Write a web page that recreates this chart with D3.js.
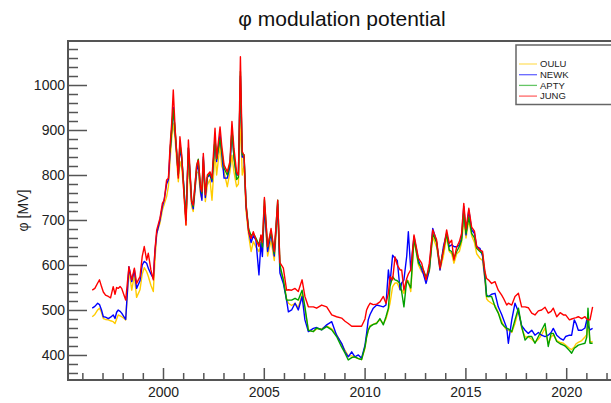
<!DOCTYPE html>
<html>
<head>
<meta charset="utf-8">
<script src="https://cdn.jsdelivr.net/npm/d3@7"></script>
<style>
  html, body { margin: 0; padding: 0; background: #fff; }
  svg { display: block; font-family: "Liberation Sans", Arial, Helvetica, sans-serif; }
</style>
</head>
<body>
<svg id="chart" width="611" height="403"></svg>
<script>
// ---------- data (decimal years, phi in MV) ----------
const dates = [
  1996.49, 1996.62, 1996.76, 1996.85, 1996.95, 1997.04, 1997.15, 1997.29, 1997.40, 1997.53,
  1997.62, 1997.70, 1997.78, 1997.87, 1997.95, 1998.05, 1998.15, 1998.31, 1998.45, 1998.58,
  1998.69, 1998.86, 1998.97, 1999.07, 1999.19, 1999.27, 1999.40, 1999.52, 1999.60, 1999.69,
  1999.85, 1999.97, 2000.06, 2000.18, 2000.27, 2000.35, 2000.43, 2000.51,
  2000.60, 2000.76, 2000.84, 2000.93, 2001.04, 2001.14, 2001.26, 2001.42, 2001.50, 2001.67,
  2001.75, 2001.87, 2001.93, 2002.00, 2002.10, 2002.20, 2002.33, 2002.43, 2002.58, 2002.66,
  2002.83, 2002.91, 2003.03, 2003.19, 2003.32, 2003.42, 2003.52, 2003.65, 2003.74, 2003.84,
  2003.93, 2004.02, 2004.12, 2004.25, 2004.37, 2004.48, 2004.61,
  2004.76, 2004.86, 2004.93, 2005.03, 2005.19, 2005.36, 2005.52, 2005.69, 2005.80, 2005.97,
  2006.13, 2006.22, 2006.38, 2006.55, 2006.71, 2006.90, 2007.04, 2007.21, 2007.46, 2007.62,
  2007.87, 2008.12, 2008.37, 2008.61, 2008.86, 2009.03, 2009.19, 2009.36, 2009.52, 2009.69,
  2009.85, 2010.02, 2010.10, 2010.18, 2010.27, 2010.43, 2010.60, 2010.76, 2010.93, 2011.06,
  2011.18,
  2011.26, 2011.39, 2011.51, 2011.62, 2011.76, 2011.84, 2011.95, 2012.09, 2012.17, 2012.29,
  2012.45, 2012.67, 2012.83, 2012.91, 2013.05, 2013.21, 2013.38, 2013.57, 2013.74, 2013.91,
  2014.07, 2014.20, 2014.32, 2014.43, 2014.57, 2014.70, 2014.81, 2014.92, 2015.03, 2015.17,
  2015.31, 2015.45, 2015.56, 2015.72, 2015.85, 2015.97,
  2016.05, 2016.14, 2016.30, 2016.47, 2016.63, 2016.80, 2016.90, 2017.05, 2017.13, 2017.30,
  2017.46, 2017.63, 2017.79, 2017.96, 2018.12, 2018.29, 2018.45, 2018.62, 2018.78, 2018.95,
  2019.11, 2019.25, 2019.36, 2019.53, 2019.70, 2019.86, 2019.97, 2020.16, 2020.27, 2020.40,
  2020.49, 2020.60, 2020.77, 2020.93, 2021.02, 2021.08, 2021.18, 2021.31
];

const oulu = [
  485, 490, 500, 504, 495, 481, 479, 478, 476, 474,
  470, 480, 489, 487, 485, 482, 478, 589, 544, 578,
  528, 545, 580, 594, 585, 575, 555, 541, 610, 670,
  693, 722, 735, 752, 775, 833, 880, 915,
  880, 785, 830, 815, 760, 689, 830, 730, 719, 807,
  805, 755, 748, 815, 741, 778, 790, 744, 852, 800,
  867, 820, 807, 774, 807, 844, 807, 774, 780, 930,
  800, 820, 719, 665, 630, 652, 640,
  630, 645, 630, 720, 620, 655, 610, 720, 590, 570,
  525, 515, 510, 515, 505, 535, 500, 455, 452, 458,
  458, 465, 458, 445, 425, 410, 398, 398, 395, 392,
  390, 415, 440, 455, 465, 468, 472, 478, 470, 480,
  500,
  515, 552, 560, 560, 545, 545, 537, 560, 565, 541,
  656, 600, 585, 581, 567, 585, 663, 640, 589, 620,
  663, 630, 625, 604, 625, 630, 650, 700, 660, 700,
  665, 650, 625, 615, 610, 565,
  525, 520, 515, 510, 495, 475, 465, 455, 455, 450,
  470, 500, 460, 440, 440, 435, 428, 435, 445, 460,
  425, 440, 445, 432, 428, 426, 422, 415, 412, 418,
  425, 428, 432, 440, 445, 480, 428, 430
];

const newk = [
  504, 508, 515, 512, 500, 485, 484, 481, 484, 489,
  481, 495, 500, 497, 493, 486, 479, 596, 563, 589,
  548, 565, 600, 608, 604, 593, 580, 570, 630, 670,
  700, 730, 745, 780, 790, 850, 900, 950,
  895, 800, 860, 835, 770, 700, 860, 740, 725, 810,
  825, 760, 744, 840, 750, 795, 800, 785, 880, 830,
  890, 850, 793, 793, 820, 900, 840, 800, 800, 1020,
  840, 840, 730, 675, 650, 665, 655,
  578, 650, 619, 730, 630, 670, 620, 735, 582, 559,
  522, 496, 500, 515, 500, 530, 478, 452, 459, 461,
  456, 467, 474, 444, 426, 407, 396, 407, 396, 400,
  393, 422, 448, 478, 490, 504, 511, 509, 507, 511,
  589,
  559, 622, 615, 610, 545, 560, 567, 620, 674, 589,
  663, 611, 590, 581, 559, 589, 681, 652, 589, 641,
  670, 641, 645, 641, 640, 644, 660, 730, 667, 722,
  678, 670, 641, 637, 620, 570,
  533, 530, 535, 537, 507, 490, 478, 460, 426, 478,
  515, 496, 465, 455, 448, 455, 444, 450, 444, 441,
  444, 450, 459, 444, 437, 433, 441, 444, 444, 478,
  470, 455, 455, 460, 478, 465, 456, 459
];

const apty = [
  null, null, null, null, null, null, null, null, null, null,
  null, null, null, null, null, null, null, null, null, null,
  null, null, null, null, null, null, null, null, null, null,
  null, null, null, null, null, 850, 900, 945,
  900, 800, 870, 840, 770, 700, 860, 745, 730, 820,
  835, 770, 760, 835, 760, 795, 805, 790, 880, 835,
  880, 855, 815, 800, 825, 900, 840, 790, 795, 1030,
  845, 845, 735, 680, 665, 670, 660,
  645, 665, 640, 745, 640, 675, 625, 744, 600, 567,
  522, 522, 522, 526, 522, 544, 507, 455, 452, 460,
  456, 463, 456, 441, 418, 404, 389, 394, 396, 392,
  390, 418, 440, 455, 463, 468, 470, 481, 467, 485,
  504,
  552, 574, 567, 565, 559, 540, 507, 567, 560, 549,
  659, 604, 595, 589, 574, 589, 670, 650, 596, 633,
  670, 633, 630, 615, 630, 641, 655, 718, 670, 707,
  670, 660, 637, 630, 625, 580,
  530, 530, 530, 507, 493, 470, 465, 459, 458, 452,
  478, 504, 463, 433, 441, 441, 426, 441, 455, 470,
  419, 448, 448, 430, 425, 422, 419, 410, 404, 415,
  418, 422, 424, 426, 440, 504, 426, 426
];

const jung = [
  544, 548, 560, 567, 552, 540, 533, 530, 527, 552,
  535, 550, 548, 552, 548, 535, 522, 596, 567, 593,
  559, 574, 619, 641, 611, 626, 589, 567, 633, 678,
  704, 737, 744, 789, 793, 863, 915, 989,
  904, 793, 885, 844, 756, 689, 878, 741, 733, 822,
  833, 770, 763, 848, 756, 800, 807, 793, 904, 837,
  907, 867, 822, 807, 830, 919, 859, 807, 800, 1063,
  852, 844, 733, 674, 659, 674, 656,
  641, 667, 650, 750, 641, 681, 630, 744, 605, 593,
  544, 545, 544, 548, 541, 567, 530, 507, 507, 504,
  511, 507, 489, 485, 482, 475, 470, 464, 464, 464,
  464, 480, 500, 508, 515, 512, 513, 518, 530, 515,
  537,
  574, 567, 618, 600, 589, 589, 544, 570, 580, 589,
  667, 615, 604, 590, 567, 604, 678, 656, 593, 633,
  678, 648, 655, 611, 640, 652, 670, 737, 680, 726,
  684, 675, 641, 633, 630, 585,
  570, 567, 559, 563, 544, 533, 525, 511, 515, 511,
  530, 537, 507, 507, 505, 493, 489, 498, 500, 506,
  493, 497, 504, 485, 494, 489, 489, 478, 480, 482,
  483, 485, 481, 485, 480, 478, 478, 507
];

const seriesNames = ["OULU", "NEWK", "APTY", "JUNG"];
const seriesColors = ["#ffcc00", "#0000ff", "#00a000", "#ff0000"];
const seriesValues = [oulu, newk, apty, jung];

const yMajorTicks = [400, 500, 600, 700, 800, 900, 1000];
const xMajorTicks = [2000, 2005, 2010, 2015, 2020];
const titleText = "φ modulation potential";
const yLabelText = "φ [MV]";

// ---------- layout ----------
const svg = d3.select("#chart");
const pL = 68, pR = 616, pT = 41, pB = 380;

const x = d3.scaleLinear().domain([1995.288, 2022.47]).range([pL, pR]);
const y = d3.scaleLinear().domain([344.4, 1097.8]).range([pB, pT]);

const axisColor = "#555";

svg.append("defs").append("clipPath").attr("id", "clip")
  .append("rect").attr("x", pL).attr("y", pT).attr("width", pR - pL).attr("height", pB - pT);

const lineGen = d3.line()
  .defined(d => d[1] != null)
  .x(d => x(d[0]))
  .y(d => y(d[1]));

const gLines = svg.append("g").attr("clip-path", "url(#clip)");
seriesValues.forEach((vals, i) => {
  const pts = dates.map((d, k) => [d, vals[k]]);
  gLines.append("path")
    .datum(pts)
    .attr("fill", "none")
    .attr("stroke", seriesColors[i])
    .attr("stroke-width", 1.4)
    .attr("stroke-linejoin", "round")
    .attr("d", lineGen);
});

function styleAxis(g) {
  g.select(".domain").remove();
  g.selectAll(".tick line").attr("stroke", axisColor).attr("stroke-width", 1.5);
  g.selectAll(".tick text").attr("fill", "#222").attr("font-size", 14)
    .attr("font-family", "Liberation Sans, Arial, sans-serif");
}

const yMinor = d3.range(360, 1100, 20).filter(v => v % 100 !== 0);
svg.append("g").attr("transform", `translate(${pL},0)`)
  .call(d3.axisLeft(y).tickValues(yMinor).tickSize(-10).tickFormat(""))
  .call(styleAxis);
svg.append("g").attr("transform", `translate(${pL},0)`)
  .call(d3.axisLeft(y).tickValues(yMajorTicks).tickSize(-19).tickFormat(d3.format("d")))
  .call(styleAxis)
  .call(g => g.selectAll(".tick text").attr("x", -3));

const xMinor = d3.range(1996, 2023, 1).filter(v => v % 5 !== 0);
svg.append("g").attr("transform", `translate(0,${pB})`)
  .call(d3.axisBottom(x).tickValues(xMinor).tickSize(-7).tickFormat(""))
  .call(styleAxis);
svg.append("g").attr("transform", `translate(0,${pB})`)
  .call(d3.axisBottom(x).tickValues(xMajorTicks).tickSize(-12).tickFormat(d3.format("d")))
  .call(styleAxis)
  .call(g => g.selectAll(".tick text").attr("y", 7).attr("dy", "0.71em"));

svg.append("rect")
  .attr("x", pL).attr("y", pT)
  .attr("width", pR - pL).attr("height", pB - pT)
  .attr("fill", "none").attr("stroke", axisColor).attr("stroke-width", 2);

svg.append("text")
  .attr("x", (pL + pR) / 2).attr("y", 26)
  .attr("text-anchor", "middle")
  .attr("font-size", 21).attr("fill", "#111")
  .text(titleText);

svg.append("text")
  .attr("transform", `translate(28,${(pT + pB) / 2}) rotate(-90)`)
  .attr("text-anchor", "middle")
  .attr("font-size", 14).attr("fill", "#222")
  .text(yLabelText);

const lg = svg.append("g");
lg.append("rect")
  .attr("x", 516).attr("y", 45).attr("width", 110).attr("height", 59.5)
  .attr("fill", "#fff").attr("stroke", "#666").attr("stroke-width", 1.5);
seriesNames.forEach((name, i) => {
  const yy = 64 + i * 10.7;
  lg.append("line")
    .attr("x1", 519).attr("x2", 537).attr("y1", yy).attr("y2", yy)
    .attr("stroke", seriesColors[i]).attr("stroke-width", 1.3).attr("stroke-opacity", 0.6);
  lg.append("text")
    .attr("x", 540).attr("y", yy).attr("dy", "0.35em")
    .attr("font-size", 9.5).attr("fill", "#222")
    .text(name);
});
</script>
</body>
</html>
